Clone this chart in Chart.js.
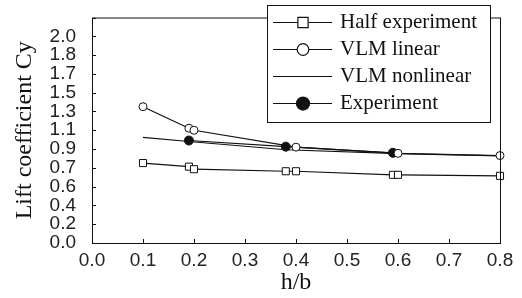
<!DOCTYPE html>
<html>
<head>
<script src="https://cdn.jsdelivr.net/npm/chart.js@4.4.0/dist/chart.umd.min.js"></script>
<style>
  html, body { margin: 0; padding: 0; background: #fff; }
  #wrap { width: 522px; height: 298px; position: relative; }
</style>
</head>
<body>
<div id="wrap"><canvas id="c"></canvas></div>
<script>
// data
const seriesNames = ['Half experiment', 'VLM linear', 'VLM nonlinear', 'Experiment'];
const halfX = [0.1, 0.19, 0.2, 0.38, 0.4, 0.59, 0.6, 0.8];
const halfY = [0.78, 0.745, 0.72, 0.70, 0.70, 0.665, 0.665, 0.655];
const linearX = [0.1, 0.19, 0.2, 0.4, 0.6, 0.8];
const linearY = [1.33, 1.12, 1.10, 0.935, 0.875, 0.853];
const nonlinX = [0.1, 0.19, 0.38, 0.6, 0.8];
const nonlinY = [1.03, 0.99, 0.91, 0.872, 0.85];
const expX = [0.19, 0.38, 0.59];
const expY = [1.0, 0.94, 0.88];
const xTickLabels = ['0.0', '0.1', '0.2', '0.3', '0.4', '0.5', '0.6', '0.7', '0.8'];
const yTickLabels = ['0.0', '0.2', '0.4', '0.6', '0.7', '0.9', '1.1', '1.3', '1.5', '1.7', '1.8', '2.0', ''];
const yMax = 2.2;

const pts = (xs, ys) => xs.map((x, i) => ({ x: x, y: ys[i] }));
const ink = '#111';

const frameAndLegend = {
  id: 'frameAndLegend',
  afterDraw(chart) {
    const { ctx, chartArea: a, scales } = chart;
    ctx.save();
    ctx.strokeStyle = ink;
    ctx.lineWidth = 1;
    ctx.strokeRect(a.left + 0.5, a.top + 0.5, a.right - a.left, a.bottom - a.top);
    // inward tick marks
    ctx.beginPath();
    scales.x.ticks.forEach(t => {
      const px = Math.round(scales.x.getPixelForValue(t.value)) + 0.5;
      ctx.moveTo(px, a.bottom); ctx.lineTo(px, a.bottom - 4);
    });
    scales.y.ticks.forEach(t => {
      const py = Math.round(scales.y.getPixelForValue(t.value)) + 0.5;
      ctx.moveTo(a.left, py); ctx.lineTo(a.left + 4, py);
    });
    ctx.stroke();

    // legend box
    const bx = 267, by = 5, bw = 223, bh = 117;
    ctx.fillStyle = '#fff';
    ctx.fillRect(bx, by, bw, bh);
    ctx.strokeRect(bx + 0.5, by + 0.5, bw, bh);
    ctx.font = '21px "Liberation Serif"';
    ctx.textBaseline = 'middle';
    chart.data.datasets.forEach((ds, i) => {
      const y = 22 + i * 27;
      ctx.beginPath();
      ctx.strokeStyle = ink;
      ctx.lineWidth = 1.2;
      ctx.moveTo(273, y + 0.5); ctx.lineTo(332, y + 0.5);
      ctx.stroke();
      if (ds.pointRadius > 0) {
        ctx.fillStyle = ds.pointBackgroundColor;
        ctx.strokeStyle = ink;
        Chart.helpers.drawPoint(ctx, { pointStyle: ds.pointStyle, rotation: 0, radius: ds.pointRadius * 1.45, borderWidth: 1 }, 303, y + 0.5);
      }
      ctx.fillStyle = ink;
      ctx.fillText(ds.label, 340, y);
    });
    ctx.restore();
  }
};

new Chart(document.getElementById('c'), {
  type: 'scatter',
  data: {
    datasets: [
      { label: seriesNames[0], data: pts(halfX, halfY), pointStyle: 'rect', pointRadius: 5,
        pointBackgroundColor: '#fff', pointBorderColor: ink, pointBorderWidth: 1 },
      { label: seriesNames[1], data: pts(linearX, linearY), pointStyle: 'circle', pointRadius: 4,
        pointBackgroundColor: '#fff', pointBorderColor: ink, pointBorderWidth: 1 },
      { label: seriesNames[2], data: pts(nonlinX, nonlinY), pointRadius: 0,
        pointBackgroundColor: ink },
      { label: seriesNames[3], data: pts(expX, expY), pointStyle: 'circle', pointRadius: 4.5,
        pointBackgroundColor: ink, pointBorderColor: ink, pointBorderWidth: 1 }
    ].map(d => Object.assign({ showLine: true, borderColor: ink, borderWidth: 1.2, clip: false, pointHoverRadius: d.pointRadius }, d))
  },
  options: {
    responsive: true,
    maintainAspectRatio: false,
    animation: false,
    layout: { padding: { top: 15, right: 22, left: 0, bottom: 0 } },
    plugins: { legend: { display: false }, tooltip: { enabled: false } },
    scales: {
      x: {
        type: 'linear', min: 0, max: 0.8,
        afterBuildTicks: s => { s.ticks = xTickLabels.map((t, i) => ({ value: i / 10 })); },
        afterFit: s => { s.height = 55; },
        grid: { display: false },
        border: { display: false },
        ticks: { autoSkip: false, maxRotation: 0, padding: 0, color: '#222',
          font: { family: 'Liberation Sans', size: 19, lineHeight: 1 },
          callback: (v, i) => xTickLabels[i] },
        title: { display: true, text: 'h/b', color: ink, padding: { top: 0, bottom: 1 },
          font: { family: 'Liberation Serif', size: 24 } }
      },
      y: {
        type: 'linear', min: 0, max: yMax,
        afterBuildTicks: s => { s.ticks = yTickLabels.map((t, i) => ({ value: i * yMax / 12 })); },
        afterFit: s => { s.width = 92; },
        grid: { display: false },
        border: { display: false },
        ticks: { autoSkip: false, padding: 8, color: '#222',
          font: { family: 'Liberation Sans', size: 19, lineHeight: 1 },
          callback: (v, i) => yTickLabels[i] },
        title: { display: true, text: 'Lift coefficient Cy', color: ink, padding: { top: 10, bottom: 0 },
          font: { family: 'Liberation Serif', size: 24 } }
      }
    }
  },
  plugins: [frameAndLegend]
});
</script>
</body>
</html>
